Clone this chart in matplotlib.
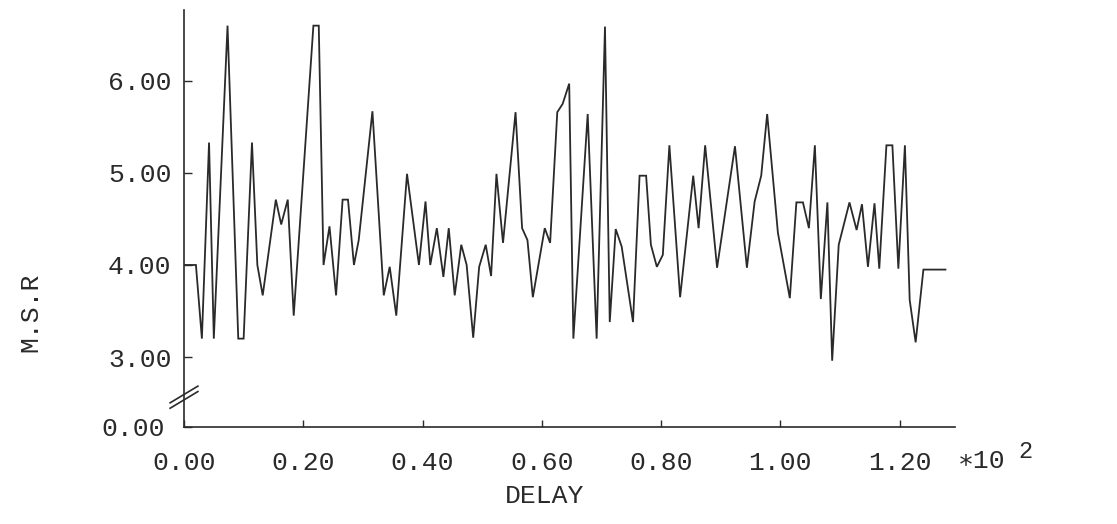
#!/usr/bin/env python3
"""Plotter-style chart: M.S.R against DELAY (x in units of 10^2), broken y axis."""
import matplotlib
matplotlib.use("Agg")
import matplotlib.pyplot as plt
from matplotlib.transforms import ScaledTranslation

# delay (in units of 1, axis labelled in *10^2) and M.S.R
delay = [0, 2, 3, 4.2, 5, 7.3, 9.1, 10, 11.4, 12.3, 13.2, 15.4, 16.3, 17.4, 18.4,
         21.7, 22.6, 23.4, 24.4, 25.5, 26.6, 27.5, 28.5, 29.3, 31.6, 33.5, 34.5,
         35.6, 37.4, 39.4, 40.5, 41.3, 42.4, 43.5, 44.4, 45.4, 46.5, 47.4, 48.5,
         49.5, 50.6, 51.5, 52.4, 53.5, 55.6, 56.7, 57.6, 58.5, 60.5, 61.4, 62.6,
         63.5, 64.6, 65.3, 67.7, 69.2, 70.6, 71.4, 72.4, 73.4, 75.3, 76.4, 77.5,
         78.3, 79.3, 80.3, 81.4, 83.2, 85.4, 86.3, 87.4, 89.4, 92.4, 94.4, 95.7,
         96.8, 97.8, 99.6, 101.6, 102.7, 103.8, 104.8, 105.8, 106.8, 107.9, 108.7,
         109.8, 111.6, 112.8, 113.7, 114.7, 115.8, 116.6, 117.8, 118.8, 119.8,
         120.9, 121.7, 122.7, 124.0, 127.7]
msr = [4.0, 4.0, 3.2, 5.33, 3.2, 6.6, 3.2, 3.2, 5.33, 4.0, 3.67, 4.71, 4.44, 4.71, 3.45,
       6.6, 6.6, 4.0, 4.42, 3.67, 4.71, 4.71, 4.0, 4.27, 5.67, 3.67, 3.98,
       3.45, 4.99, 4.0, 4.69, 4.0, 4.40, 3.87, 4.40, 3.67, 4.22, 4.0, 3.21,
       3.98, 4.22, 3.88, 4.99, 4.24, 5.66, 4.40, 4.27, 3.65, 4.40, 4.24, 5.66,
       5.75, 5.97, 3.2, 5.64, 3.2, 6.59, 3.38, 4.39, 4.2, 3.38, 4.97, 4.97,
       4.22, 3.98, 4.11, 5.30, 3.65, 4.97, 4.40, 5.30, 3.97, 5.29, 3.97, 4.69,
       4.97, 5.64, 4.35, 3.64, 4.68, 4.68, 4.40, 5.30, 3.63, 4.68, 2.96,
       4.22, 4.68, 4.38, 4.66, 3.98, 4.67, 3.96, 5.30, 5.30, 3.96,
       5.30, 3.62, 3.16, 3.95, 3.95]

XTICKS = [0, 20, 40, 60, 80, 100, 120]
XLABELS = ["0.00", "0.20", "0.40", "0.60", "0.80", "1.00", "1.20"]
YTICKS = [3, 4, 5, 6]
YLABELS = ["3.00", "4.00", "5.00", "6.00"]
Y_BREAK = 2.24  # where the broken axis puts "0.00"

INK = "#2a2a2a"
W, H = 1117, 524

plt.rcParams["font.family"] = ["Liberation Mono", "DejaVu Sans Mono"]

fig = plt.figure(figsize=(W / 100, H / 100), dpi=100)
ax = fig.add_axes([184 / W, 1 - 427 / H, (955 - 184) / W, (427 - 10) / H])
ax.plot(delay, msr, color=INK, lw=1.3, solid_joinstyle="miter")

ax.set_xlim(0, 129.3)
ax.set_ylim(Y_BREAK, 6.77)
ax.set_xticks(XTICKS)
ax.set_xticklabels(XLABELS)
ax.set_yticks([Y_BREAK] + YTICKS)
ax.set_yticklabels(["0.00"] + YLABELS)
ax.tick_params(axis="x", direction="in", length=5, width=1, pad=17,
               labelsize=19, colors=INK)
ax.tick_params(axis="y", direction="in", length=6, width=1, pad=9,
               labelsize=19, colors=INK)
zero_lab = ax.get_yticklabels()[0]
zero_lab.set_transform(zero_lab.get_transform()
                       + ScaledTranslation(-0.07, 0, fig.dpi_scale_trans))
for s in ("top", "right"):
    ax.spines[s].set_visible(False)
for s in ("left", "bottom"):
    ax.spines[s].set_color(INK)
    ax.spines[s].set_linewidth(1.2)

# axis break marks on the y axis
for dy in (0.0, 0.013):
    ax.plot([-0.018, 0.018], [0.045 + dy, 0.085 + dy], transform=ax.transAxes,
            color=INK, lw=1.2, clip_on=False)

fig.text(30 / W, 1 - 312 / H, "M.S.R", rotation=90, ha="center", va="center",
         fontsize=19, color=INK)
fig.text(545 / W, 1 - 496 / H, "DELAY", ha="center", va="center",
         fontsize=19, color=INK)
fig.text(958 / W, 1 - 461 / H, "\u221710", ha="left", va="center",
         fontsize=19, color=INK)
fig.text(1018 / W, 1 - 452 / H, "2", ha="left", va="center",
         fontsize=17, color=INK)

fig.savefig("out.png", dpi=100, facecolor="white")
